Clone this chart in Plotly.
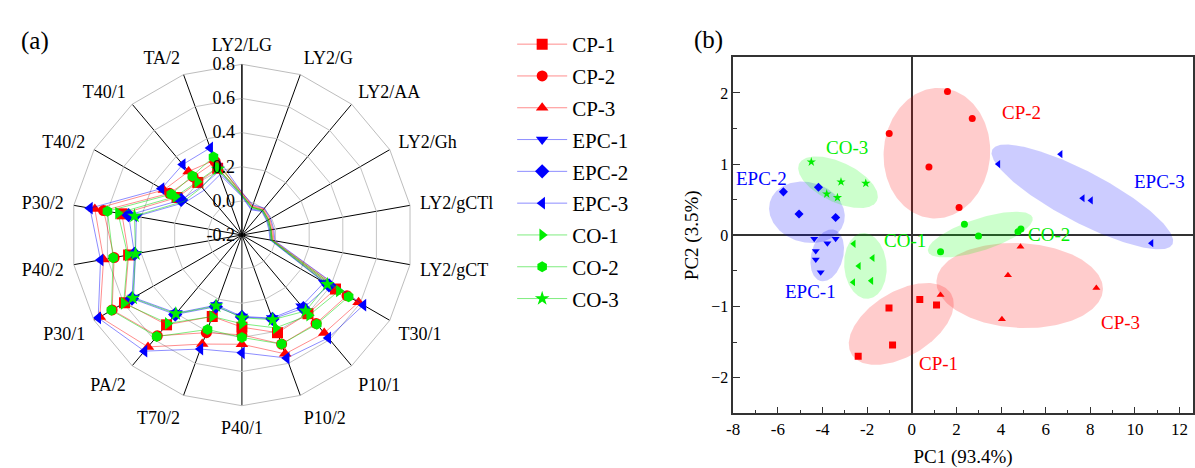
import numpy as np
import plotly.graph_objects as go

# ---------------- radar panel (a) ----------------
categories = ["LY2/LG", "LY2/G", "LY2/AA", "LY2/Gh", "LY2/gCTl", "LY2/gCT",
              "T30/1", "P10/1", "P10/2", "P40/1", "T70/2", "PA/2",
              "P30/1", "P40/2", "P30/2", "T40/2", "T40/1", "TA/2"]

cp1 = [0.040, -0.027, -0.010, -0.022, -0.027, -0.022, 0.433, 0.402, 0.409, 0.340, 0.308, 0.487, 0.594, 0.474, 0.514, 0.239, 0.202, 0.216]
cp2 = [0.045, -0.022, -0.005, -0.017, -0.022, -0.016, 0.511, 0.476, 0.480, 0.385, 0.409, 0.571, 0.678, 0.560, 0.623, 0.289, 0.244, 0.257]
cp3 = [0.050, -0.017, 0.001, -0.011, -0.016, -0.010, 0.589, 0.550, 0.541, 0.440, 0.480, 0.656, 0.761, 0.623, 0.675, 0.328, 0.286, 0.267]
epc1 = [0.025, -0.043, -0.020, -0.033, -0.039, -0.033, 0.356, 0.344, 0.318, 0.277, 0.237, 0.397, 0.533, 0.433, 0.428, 0.183, 0.143, 0.176]
epc2 = [0.030, -0.038, -0.015, -0.028, -0.033, -0.027, 0.389, 0.360, 0.323, 0.280, 0.247, 0.408, 0.544, 0.439, 0.474, 0.211, 0.170, 0.196]
epc3 = [0.050, -0.012, 0.006, -0.006, -0.010, -0.004, 0.622, 0.587, 0.567, 0.490, 0.511, 0.688, 0.772, 0.641, 0.704, 0.344, 0.339, 0.343]
co1 = [0.035, -0.027, -0.010, -0.022, -0.027, -0.022, 0.456, 0.413, 0.379, 0.320, 0.308, 0.476, 0.600, 0.479, 0.537, 0.250, 0.207, 0.221]
co2 = [0.035, -0.027, -0.010, -0.020, -0.027, -0.018, 0.522, 0.482, 0.480, 0.400, 0.389, 0.577, 0.683, 0.566, 0.600, 0.278, 0.252, 0.287]
co3 = [0.030, -0.032, -0.015, -0.028, -0.033, -0.027, 0.378, 0.381, 0.328, 0.285, 0.242, 0.402, 0.539, 0.433, 0.439, 0.194, 0.165, 0.211]

radial_ticks = [-0.2, 0.0, 0.2, 0.4, 0.6, 0.8]
radial_labels = ["-0.2", "0.0", "0.2", "0.4", "0.6", "0.8"]

# ---------------- PCA panel (b) ----------------
pc_cp1_x = [0.36, 1.11, -1.02, -0.86, -2.40]
pc_cp1_y = [-0.90, -0.98, -1.02, -1.54, -1.70]
pc_cp2_x = [1.60, 2.71, -1.01, 0.77, 2.12]
pc_cp2_y = [2.02, 1.64, 1.43, 0.96, 0.39]
pc_cp3_x = [4.87, 4.31, 8.27, 1.29, 4.04]
pc_cp3_y = [-0.16, -0.56, -0.74, -0.84, -1.18]
pc_epc1_x = [-4.37, -3.78, -3.41, -4.30, -4.30, -4.08]
pc_epc1_y = [-0.05, -0.11, -0.05, -0.22, -0.34, -0.52]
pc_epc2_x = [-5.75, -4.18, -5.05, -3.41]
pc_epc2_y = [0.61, 0.675, 0.30, 0.25]
pc_epc3_x = [3.88, 6.67, 7.66, 8.03, 10.74]
pc_epc3_y = [1.00, 1.14, 0.52, 0.49, -0.11]
pc_co1_x = [-2.60, -1.75, -2.37, -2.62, -1.81]
pc_co1_y = [-0.12, -0.32, -0.43, -0.66, -0.64]
pc_co2_x = [2.36, 2.99, 1.29, 4.76, 4.89]
pc_co2_y = [0.155, -0.01, -0.23, 0.05, 0.09]
pc_co3_x = [-4.50, -3.17, -2.06, -3.81, -3.33]
pc_co3_y = [1.03, 0.75, 0.73, 0.58, 0.53]

# confidence ellipses: centre and two conjugate semi-diameters (data units)
ell_names = ["CP-1", "CP-2", "CP-3", "EPC-1", "EPC-2", "EPC-3", "CO-1", "CO-2", "CO-3"]
ell_cx = [-0.47, 1.126, 4.835, -3.787, -4.696, 7.644, -2.076, 3.071, -3.304]
ell_cy = [-1.245, 1.153, -0.705, -0.281, 0.3235, 0.539, -0.430, 0.010, 0.745]
ell_ux = [2.231, -0.253, 3.728, -0.305, 1.660, 4.034, 0.128, 2.339, 1.745]
ell_uy = [0.424, -0.915, -0.062, -0.360, -0.141, -0.6645, -0.462, 0.2405, -0.258]
ell_vx = [0.738, -2.376, -0.098, -0.687, -0.345, -0.520, -0.945, 0.220, -0.376]
ell_vy = [-0.389, 0.066, -0.595, 0.058, -0.408, -0.316, -0.026, -0.214, -0.255]

label_x = [1.21, 4.93, 9.33, -4.52, -6.71, 11.11, -0.30, 6.15, -2.89]
label_y = [-1.80, 1.72, -1.22, -0.79, 0.80, 0.76, -0.075, 0.01, 1.24]

x_tickvals = [-8, -6, -4, -2, 0, 2, 4, 6, 8, 10, 12]
x_ticktext = ["-8", "-6", "-4", "-2", "0", "2", "4", "6", "8", "10", "12"]
y_tickvals = [-2, -1, 0, 1, 2]

RED, BLUE, GREEN = "#ff0000", "#0000ff", "#00ee00"
RED_L, BLUE_L, GREEN_L = "rgba(255,0,0,0.45)", "rgba(0,0,255,0.45)", "rgba(0,220,0,0.5)"
FILL = {RED: "rgba(255,0,0,0.2)", BLUE: "rgba(0,0,255,0.2)", GREEN: "rgba(0,255,0,0.2)"}
FONT = "Liberation Serif, Times New Roman, serif"

radar_series = [
    ("CP-1", cp1, RED, RED_L, "square"),
    ("CP-2", cp2, RED, RED_L, "circle"),
    ("CP-3", cp3, RED, RED_L, "triangle-up"),
    ("EPC-1", epc1, BLUE, BLUE_L, "triangle-down"),
    ("EPC-2", epc2, BLUE, BLUE_L, "diamond"),
    ("EPC-3", epc3, BLUE, BLUE_L, "triangle-left"),
    ("CO-1", co1, GREEN, GREEN_L, "triangle-right"),
    ("CO-2", co2, GREEN, GREEN_L, "hexagon"),
    ("CO-3", co3, GREEN, GREEN_L, "star"),
]

pca_series = [
    ("CP-1", pc_cp1_x, pc_cp1_y, RED, "square"),
    ("CP-2", pc_cp2_x, pc_cp2_y, RED, "circle"),
    ("CP-3", pc_cp3_x, pc_cp3_y, RED, "triangle-up"),
    ("EPC-1", pc_epc1_x, pc_epc1_y, BLUE, "triangle-down"),
    ("EPC-2", pc_epc2_x, pc_epc2_y, BLUE, "diamond"),
    ("EPC-3", pc_epc3_x, pc_epc3_y, BLUE, "triangle-left"),
    ("CO-1", pc_co1_x, pc_co1_y, GREEN, "triangle-left"),
    ("CO-2", pc_co2_x, pc_co2_y, GREEN, "circle"),
    ("CO-3", pc_co3_x, pc_co3_y, GREEN, "star"),
]

fig = go.Figure()

for name, vals, col, lcol, sym in radar_series:
    fig.add_trace(go.Scatterpolar(
        r=vals + vals[:1], theta=categories + categories[:1],
        mode="lines+markers", name=name, legendgroup=name,
        line=dict(color=lcol, width=1),
        marker=dict(symbol=sym, size=11, color=col, line=dict(width=0)),
        subplot="polar",
    ))

# ellipses first so the points sit on top
phi = np.linspace(0, 2 * np.pi, 200)
group_colors = [RED, RED, RED, BLUE, BLUE, BLUE, GREEN, GREEN, GREEN]
for i, name in enumerate(ell_names):
    ex = ell_cx[i] + ell_ux[i] * np.cos(phi) + ell_vx[i] * np.sin(phi)
    ey = ell_cy[i] + ell_uy[i] * np.cos(phi) + ell_vy[i] * np.sin(phi)
    fig.add_trace(go.Scatter(
        x=ex, y=ey, mode="lines", fill="toself",
        fillcolor=FILL[group_colors[i]], line=dict(width=0),
        showlegend=False, hoverinfo="skip", xaxis="x", yaxis="y",
    ))

for name, xs, ys, col, sym in pca_series:
    fig.add_trace(go.Scatter(
        x=xs, y=ys, mode="markers", name=name, showlegend=False,
        marker=dict(symbol=sym, size=7, color=col, line=dict(width=0)),
        xaxis="x", yaxis="y",
    ))

for i, name in enumerate(ell_names):
    fig.add_annotation(x=label_x[i], y=label_y[i], xref="x", yref="y",
                       text=name, showarrow=False,
                       font=dict(family=FONT, size=19, color=group_colors[i]))

for txt, px, py in [("(a)", 28, 41), ("(b)", 707, 40)]:
    fig.add_annotation(x=px / 1195, y=1 - py / 468, xref="paper", yref="paper",
                       xanchor="center", yanchor="middle", text=txt,
                       showarrow=False, font=dict(family=FONT, size=25, color="black"))

# radar centre and radius (px)
CX, CY, R = 236.7, 235.0, 172.0

fig.update_layout(
    width=1195, height=468,
    margin=dict(l=0, r=0, t=0, b=0),
    paper_bgcolor="white", plot_bgcolor="white",
    font=dict(family=FONT, color="black"),
    polar=dict(
        domain=dict(x=[(CX - R) / 1195, (CX + R) / 1195],
                    y=[(468 - CY - R) / 468, (468 - CY + R) / 468]),
        bgcolor="white",
        gridshape="linear",
        angularaxis=dict(
            type="category", categoryorder="array", categoryarray=categories,
            rotation=90, direction="clockwise",
            gridcolor="black", gridwidth=1,
            showline=True, linecolor="#bdbdbd", linewidth=1,
            ticks="outside", ticklen=6, tickcolor="rgba(0,0,0,0)",
            tickfont=dict(family=FONT, size=18, color="black"),
        ),
        radialaxis=dict(
            range=[-0.2, 0.8], tickvals=radial_ticks, ticktext=radial_labels,
            angle=90, tickangle=90, side="counterclockwise",
            gridcolor="#c4c4c4", gridwidth=1,
            showline=True, linecolor="black", linewidth=1,
            ticks="", tickfont=dict(family=FONT, size=18, color="black"),
        ),
    ),
    xaxis=dict(
        domain=[731.7 / 1195, 1.0], range=[-8, 12.6],
        tickvals=x_tickvals, ticktext=x_ticktext,
        ticks="inside", ticklen=7, tickwidth=1.2, tickcolor="#333",
        minor=dict(ticks="inside", ticklen=4, dtick=1, tickcolor="#333"),
        showgrid=False, zeroline=True, zerolinecolor="#333", zerolinewidth=1.5,
        showline=True, linecolor="#333", linewidth=1.5, mirror=True,
        tickfont=dict(family=FONT, size=17, color="black"),
        title=dict(text="PC1 (93.4%)", font=dict(family=FONT, size=19), standoff=14),
    ),
    yaxis=dict(
        domain=[1 - 413.3 / 468, 1 - 57.3 / 468], range=[-2.5, 2.5],
        tickvals=y_tickvals,
        ticks="inside", ticklen=7, tickwidth=1.2, tickcolor="#333",
        minor=dict(ticks="inside", ticklen=4, dtick=0.5, tickcolor="#333"),
        showgrid=False, zeroline=True, zerolinecolor="#333", zerolinewidth=1.5,
        showline=True, linecolor="#333", linewidth=1.5, mirror=True,
        tickfont=dict(family=FONT, size=16, color="black"),
        title=dict(text="PC2 (3.5%)", font=dict(family=FONT, size=19), standoff=8),
    ),
    legend=dict(
        x=509 / 1195, y=1 - 24 / 468, xanchor="left", yanchor="top",
        font=dict(family=FONT, size=21, color="black"),
        itemwidth=50, tracegroupgap=1.5, bgcolor="rgba(0,0,0,0)",
    ),
)

fig.write_html("out.html")
